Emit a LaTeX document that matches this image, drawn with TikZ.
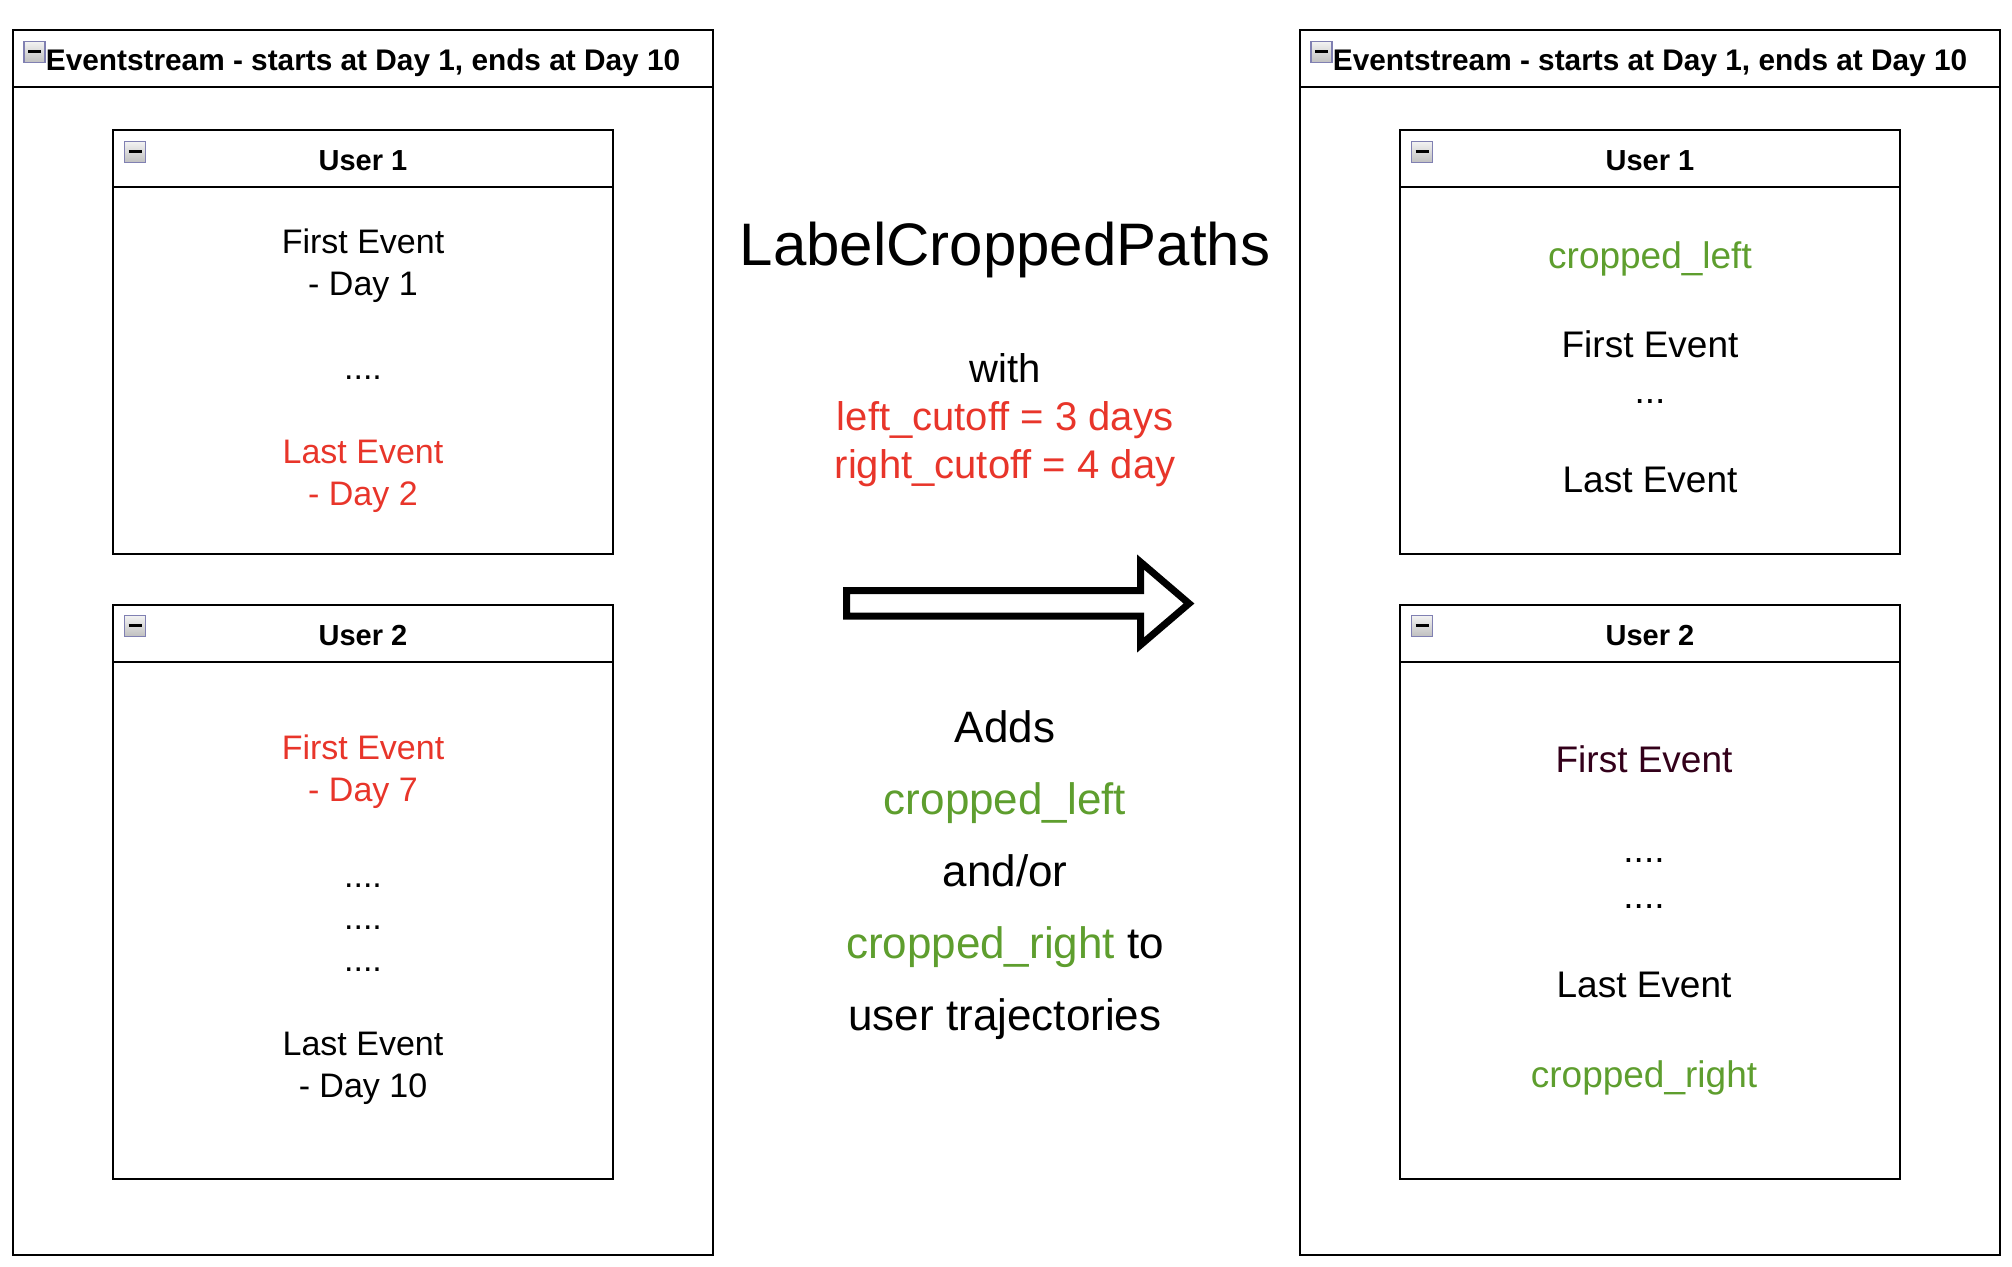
\documentclass[tikz,border=0pt]{standalone}
\usepackage{fontspec}
\setmainfont{Liberation Sans}
\usepackage[dvipsnames]{xcolor}
\usetikzlibrary{positioning}
\definecolor{cutred}{RGB}{232,53,42}
\definecolor{cropgreen}{RGB}{94,158,46}
\definecolor{darkwine}{RGB}{51,0,26}
\tikzset{panel/.style = {draw, line width = 1pt}}
\tikzset{fold/.style = {draw = gray!75!blue!80, top color = gray!10, bottom color = gray!50, line width = 0.7pt}}
\tikzset{headtxt/.style = {font = \bfseries\fontsize{14.9}{18}\selectfont, anchor = base west, inner sep = 0}}
\tikzset{usrtxt/.style = {font = \bfseries\fontsize{14.5}{17}\selectfont, anchor = base, inner sep = 0}}
\tikzset{ev/.style = {font = \fontsize{17}{21}\selectfont, align = center, anchor = base, inner sep = 0}}
\tikzset{evr/.style = {font = \fontsize{18.5}{23}\selectfont, align = center, anchor = base, inner sep = 0}}

\begin{document}
\begin{tikzpicture}[x=0.5pt, y=-0.5pt]
            \useasboundingbox (0,0) rectangle (2012,1266);
            % the two event streams
            \foreach \dx/\side in {0/L,1287/R} {
                \draw [panel] (12.7+\dx,30) rectangle (712.7+\dx,1254.5);
                \draw [panel] (12.7+\dx,87)--(712.7+\dx,87);
                \draw [panel] (113+\dx,130) rectangle (612.7+\dx,554);
                \draw [panel] (113+\dx,187)--(612.7+\dx,187);
                \draw [panel] (113+\dx,605) rectangle (612.7+\dx,1179);
                \draw [panel] (113+\dx,662)--(612.7+\dx,662);
                \foreach \ix/\iy in {24/41.5,124.5/141.5,124.5/615.5} {
                    \shade [fold] (\ix+\dx,\iy) rectangle ++(21,21);
                    \draw [line width=1.2pt] (\ix+4+\dx,\iy+10)--++(13,0);
                }
                \node [headtxt] (head\side) at (45.5+\dx,70.5) {Eventstream - starts at Day 1, ends at Day 10};
                \node [usrtxt] (uone\side) at (363+\dx,170) {User 1};
                \node [usrtxt] (utwo\side) at (363+\dx,645.5) {User 2};
            }
            % before
            \node [ev] (firstA) at (363,295) {First Event\\- Day 1};
            \node [ev] (dotsA) at (363,379) {....};
            \node [ev, text=cutred] (lastA) at (363,505) {Last Event\\- Day 2};
            \node [ev, text=cutred] (firstB) at (363,801) {First Event\\- Day 7};
            \node [ev] (dotsB) at (363,971.6) {....\\....\\....};
            \node [ev] (lastB) at (363,1097.6) {Last Event\\- Day 10};
            % after
            \node [evr, text=cropgreen] (cropA) at (1650,268) {cropped\_left};
            \node [evr] (firstC) at (1650,403.7) {First Event\\...};
            \node [evr] (lastC) at (1650,492.5) {Last Event};
            \node [evr, text=darkwine] (firstD) at (1644,772.5) {First Event};
            \node [evr] (dotsD) at (1644,908) {....\\....};
            \node [evr] (lastD) at (1644,997.8) {Last Event};
            \node [evr, text=cropgreen] (cropD) at (1644,1087.5) {cropped\_right};
            % operation
            \node [font=\fontsize{30}{36}\selectfont, anchor=base, inner sep=0] (op) at (1005,265.3) {LabelCroppedPaths};
            \node [font=\fontsize{20}{24}\selectfont, align=center, anchor=base, inner sep=0] (par) at (1005,478.5) {with\\\textcolor{cutred}{left\_cutoff = 3 days}\\\textcolor{cutred}{right\_cutoff = 4 day}};
            \draw [line width=3.5pt, miter limit=10] (846.5,590.5)--(1140.5,590.5)--(1140.5,562)--(1189,603.5)--(1140.5,645)--(1140.5,616)--(846.5,616)--cycle;
            \node [font=\fontsize{22}{36}\selectfont, align=center, anchor=base, inner sep=0] (eff) at (1005,1030) {Adds\\\textcolor{cropgreen}{cropped\_left}\\and/or\\\textcolor{cropgreen}{cropped\_right} to\\user trajectories};
        \end{tikzpicture}
\end{document}
